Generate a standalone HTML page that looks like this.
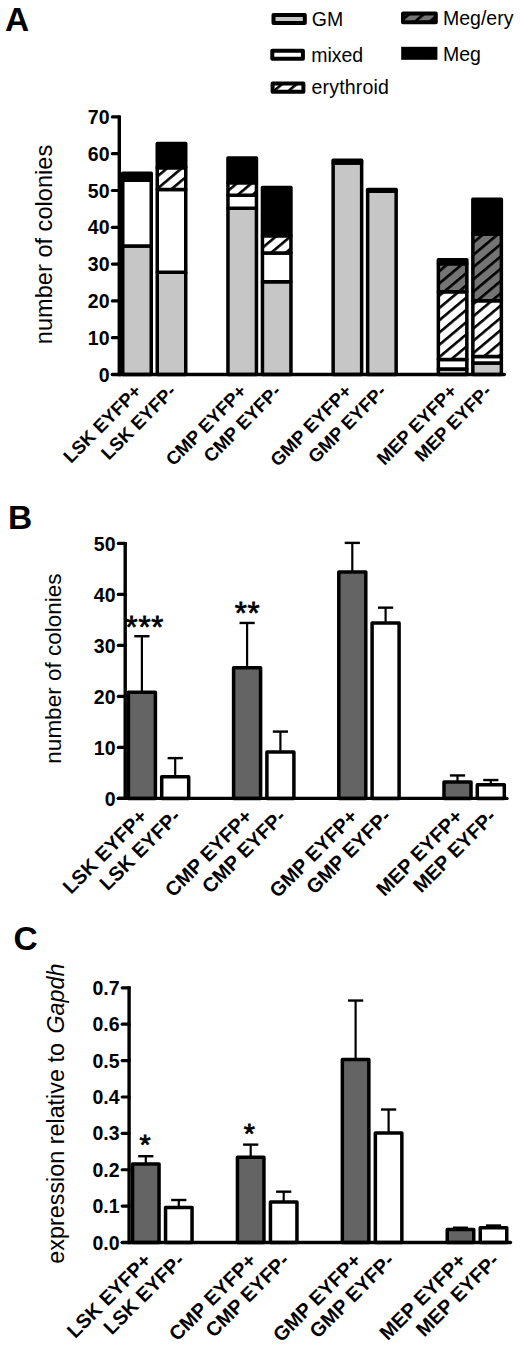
<!DOCTYPE html><html><head><meta charset="utf-8"><style>html,body{margin:0;padding:0;background:#fff;overflow:hidden;width:520px;height:1347px;}svg{display:block;font-family:"Liberation Sans", sans-serif;}</style></head><body>
<svg width="520" height="1347" viewBox="0 0 520 1347">
<defs><pattern id="hw" patternUnits="userSpaceOnUse" width="9.4" height="20" patternTransform="rotate(50)"><rect width="9.4" height="20" fill="#fff"/><rect x="0" y="0" width="2.6" height="20" fill="#000"/></pattern><pattern id="hg" patternUnits="userSpaceOnUse" width="9.4" height="20" patternTransform="rotate(50)"><rect width="9.4" height="20" fill="#747474"/><rect x="0" y="0" width="2.6" height="20" fill="#000"/></pattern></defs>
<rect width="520" height="1347" fill="#fff"/>
<text x="5" y="30.5" font-size="33.5" font-weight="bold" text-anchor="start" >A</text>
<text x="8" y="529.2" font-size="33.5" font-weight="bold" text-anchor="start" >B</text>
<text x="13.5" y="950.4" font-size="33.5" font-weight="bold" text-anchor="start" >C</text>
<rect x="273.5" y="15" width="31.3" height="8" fill="#c6c6c6" stroke="#000" stroke-width="4" stroke-linejoin="round"/>
<text x="311.8" y="25.7" font-size="19.5" font-weight="normal" text-anchor="start" >GM</text>
<rect x="272.3" y="50.7" width="30.6" height="8.1" fill="#fff" stroke="#000" stroke-width="4" stroke-linejoin="round"/>
<text x="311.2" y="62.2" font-size="19.5" font-weight="normal" text-anchor="start" >mixed</text>
<rect x="272.6" y="83.5" width="30.8" height="8.3" fill="url(#hw)" stroke="#000" stroke-width="4" stroke-linejoin="round"/>
<text x="311.5" y="94.2" font-size="19.5" font-weight="normal" text-anchor="start" letter-spacing="0.2">erythroid</text>
<rect x="403" y="13.5" width="32.8" height="8.7" fill="url(#hg)" stroke="#000" stroke-width="4" stroke-linejoin="round"/>
<text x="443" y="24.7" font-size="19.5" font-weight="normal" text-anchor="start" >Meg/ery</text>
<rect x="401.2" y="46.8" width="36.2" height="13" fill="#000"/>
<text x="443" y="60.7" font-size="19.5" font-weight="normal" text-anchor="start" >Meg</text>
<line x1="119.3" y1="115.4" x2="119.3" y2="376.2" stroke="#000" stroke-width="3.4"/>
<line x1="112.4" y1="374.5" x2="119.3" y2="374.5" stroke="#000" stroke-width="3.2" stroke-linecap="round"/>
<text x="109.5" y="381.6" font-size="19.5" font-weight="bold" text-anchor="end" >0</text>
<line x1="112.4" y1="337.7" x2="119.3" y2="337.7" stroke="#000" stroke-width="3.2" stroke-linecap="round"/>
<text x="109.5" y="344.8" font-size="19.5" font-weight="bold" text-anchor="end" >10</text>
<line x1="112.4" y1="300.9" x2="119.3" y2="300.9" stroke="#000" stroke-width="3.2" stroke-linecap="round"/>
<text x="109.5" y="308" font-size="19.5" font-weight="bold" text-anchor="end" >20</text>
<line x1="112.4" y1="264.1" x2="119.3" y2="264.1" stroke="#000" stroke-width="3.2" stroke-linecap="round"/>
<text x="109.5" y="271.2" font-size="19.5" font-weight="bold" text-anchor="end" >30</text>
<line x1="112.4" y1="227.3" x2="119.3" y2="227.3" stroke="#000" stroke-width="3.2" stroke-linecap="round"/>
<text x="109.5" y="234.4" font-size="19.5" font-weight="bold" text-anchor="end" >40</text>
<line x1="112.4" y1="190.5" x2="119.3" y2="190.5" stroke="#000" stroke-width="3.2" stroke-linecap="round"/>
<text x="109.5" y="197.6" font-size="19.5" font-weight="bold" text-anchor="end" >50</text>
<line x1="112.4" y1="153.7" x2="119.3" y2="153.7" stroke="#000" stroke-width="3.2" stroke-linecap="round"/>
<text x="109.5" y="160.8" font-size="19.5" font-weight="bold" text-anchor="end" >60</text>
<line x1="112.4" y1="116.9" x2="119.3" y2="116.9" stroke="#000" stroke-width="3.2" stroke-linecap="round"/>
<text x="109.5" y="124" font-size="19.5" font-weight="bold" text-anchor="end" >70</text>
<text font-size="23.6" transform="translate(51.5 244.5) rotate(-90)" text-anchor="middle">number of colonies</text>
<rect x="122.75" y="246.1" width="28.5" height="128.4" fill="#c6c6c6" stroke="#000" stroke-width="3.5" stroke-linejoin="round"/>
<rect x="122.75" y="180.21" width="28.5" height="65.89" fill="#fff" stroke="#000" stroke-width="3.5" stroke-linejoin="round"/>
<rect x="122.75" y="173.22" width="28.5" height="6.99" fill="#000" stroke="#000" stroke-width="3.5" stroke-linejoin="round"/>
<rect x="157.25" y="272.24" width="28.5" height="102.26" fill="#c6c6c6" stroke="#000" stroke-width="3.5" stroke-linejoin="round"/>
<rect x="157.25" y="189.41" width="28.5" height="82.82" fill="#fff" stroke="#000" stroke-width="3.5" stroke-linejoin="round"/>
<rect x="157.25" y="167.84" width="28.5" height="21.57" fill="url(#hw)" stroke="#000" stroke-width="3.5" stroke-linejoin="round"/>
<rect x="157.25" y="143.4" width="28.5" height="24.44" fill="#000" stroke="#000" stroke-width="3.5" stroke-linejoin="round"/>
<rect x="227.95" y="208.19" width="28.5" height="166.31" fill="#c6c6c6" stroke="#000" stroke-width="3.5" stroke-linejoin="round"/>
<rect x="227.95" y="195.3" width="28.5" height="12.88" fill="#fff" stroke="#000" stroke-width="3.5" stroke-linejoin="round"/>
<rect x="227.95" y="182.79" width="28.5" height="12.52" fill="url(#hw)" stroke="#000" stroke-width="3.5" stroke-linejoin="round"/>
<rect x="227.95" y="157.94" width="28.5" height="24.85" fill="#000" stroke="#000" stroke-width="3.5" stroke-linejoin="round"/>
<rect x="262.45" y="281.81" width="28.5" height="92.69" fill="#c6c6c6" stroke="#000" stroke-width="3.5" stroke-linejoin="round"/>
<rect x="262.45" y="253.1" width="28.5" height="28.71" fill="#fff" stroke="#000" stroke-width="3.5" stroke-linejoin="round"/>
<rect x="262.45" y="235.79" width="28.5" height="17.3" fill="url(#hw)" stroke="#000" stroke-width="3.5" stroke-linejoin="round"/>
<rect x="262.45" y="187.57" width="28.5" height="48.22" fill="#000" stroke="#000" stroke-width="3.5" stroke-linejoin="round"/>
<rect x="333.15" y="162.91" width="28.5" height="211.59" fill="#c6c6c6" stroke="#000" stroke-width="3.5" stroke-linejoin="round"/>
<rect x="333.15" y="160.33" width="28.5" height="2.58" fill="#000" stroke="#000" stroke-width="3.5" stroke-linejoin="round"/>
<rect x="367.65" y="191.25" width="28.5" height="183.25" fill="#c6c6c6" stroke="#000" stroke-width="3.5" stroke-linejoin="round"/>
<rect x="367.65" y="189.41" width="28.5" height="1.84" fill="#000" stroke="#000" stroke-width="3.5" stroke-linejoin="round"/>
<rect x="438.35" y="368.9" width="28.5" height="5.6" fill="#c6c6c6" stroke="#000" stroke-width="3.5" stroke-linejoin="round"/>
<rect x="438.35" y="359.59" width="28.5" height="9.31" fill="#fff" stroke="#000" stroke-width="3.5" stroke-linejoin="round"/>
<rect x="438.35" y="291.75" width="28.5" height="67.84" fill="url(#hw)" stroke="#000" stroke-width="3.5" stroke-linejoin="round"/>
<rect x="438.35" y="263.77" width="28.5" height="27.98" fill="url(#hg)" stroke="#000" stroke-width="3.5" stroke-linejoin="round"/>
<rect x="438.35" y="259.72" width="28.5" height="4.05" fill="#000" stroke="#000" stroke-width="3.5" stroke-linejoin="round"/>
<rect x="472.85" y="363.01" width="28.5" height="11.49" fill="#c6c6c6" stroke="#000" stroke-width="3.5" stroke-linejoin="round"/>
<rect x="472.85" y="356.53" width="28.5" height="6.48" fill="#fff" stroke="#000" stroke-width="3.5" stroke-linejoin="round"/>
<rect x="472.85" y="300.76" width="28.5" height="55.77" fill="url(#hw)" stroke="#000" stroke-width="3.5" stroke-linejoin="round"/>
<rect x="472.85" y="233.95" width="28.5" height="66.81" fill="url(#hg)" stroke="#000" stroke-width="3.5" stroke-linejoin="round"/>
<rect x="472.85" y="199.35" width="28.5" height="34.6" fill="#000" stroke="#000" stroke-width="3.5" stroke-linejoin="round"/>
<line x1="112.5" y1="374.5" x2="504.3" y2="374.5" stroke="#000" stroke-width="3.4" stroke-linecap="round"/>
<text x="0" y="0" font-size="18.5" font-weight="bold" text-anchor="end" transform="translate(142.5 392.4) rotate(-45)">LSK EYFP+</text>
<text x="0" y="0" font-size="18.5" font-weight="bold" text-anchor="end" transform="translate(177 392.4) rotate(-45)">LSK EYFP-</text>
<text x="0" y="0" font-size="18.5" font-weight="bold" text-anchor="end" transform="translate(247.7 392.4) rotate(-45)">CMP EYFP+</text>
<text x="0" y="0" font-size="18.5" font-weight="bold" text-anchor="end" transform="translate(282.2 392.4) rotate(-45)">CMP EYFP-</text>
<text x="0" y="0" font-size="18.5" font-weight="bold" text-anchor="end" transform="translate(352.9 392.4) rotate(-45)">GMP EYFP+</text>
<text x="0" y="0" font-size="18.5" font-weight="bold" text-anchor="end" transform="translate(387.4 392.4) rotate(-45)">GMP EYFP-</text>
<text x="0" y="0" font-size="18.5" font-weight="bold" text-anchor="end" transform="translate(458.1 392.4) rotate(-45)">MEP EYFP+</text>
<text x="0" y="0" font-size="18.5" font-weight="bold" text-anchor="end" transform="translate(492.6 392.4) rotate(-45)">MEP EYFP-</text>
<line x1="125.2" y1="541.9" x2="125.2" y2="800.1" stroke="#000" stroke-width="3.4"/>
<line x1="118.3" y1="798.4" x2="125.2" y2="798.4" stroke="#000" stroke-width="3.2" stroke-linecap="round"/>
<text x="115.5" y="805.5" font-size="19.5" font-weight="bold" text-anchor="end" >0</text>
<line x1="118.3" y1="747.4" x2="125.2" y2="747.4" stroke="#000" stroke-width="3.2" stroke-linecap="round"/>
<text x="115.5" y="754.5" font-size="19.5" font-weight="bold" text-anchor="end" >10</text>
<line x1="118.3" y1="696.4" x2="125.2" y2="696.4" stroke="#000" stroke-width="3.2" stroke-linecap="round"/>
<text x="115.5" y="703.5" font-size="19.5" font-weight="bold" text-anchor="end" >20</text>
<line x1="118.3" y1="645.4" x2="125.2" y2="645.4" stroke="#000" stroke-width="3.2" stroke-linecap="round"/>
<text x="115.5" y="652.5" font-size="19.5" font-weight="bold" text-anchor="end" >30</text>
<line x1="118.3" y1="594.4" x2="125.2" y2="594.4" stroke="#000" stroke-width="3.2" stroke-linecap="round"/>
<text x="115.5" y="601.5" font-size="19.5" font-weight="bold" text-anchor="end" >40</text>
<line x1="118.3" y1="543.4" x2="125.2" y2="543.4" stroke="#000" stroke-width="3.2" stroke-linecap="round"/>
<text x="115.5" y="550.5" font-size="19.5" font-weight="bold" text-anchor="end" >50</text>
<text font-size="22.5" transform="translate(60.5 668.6) rotate(-90)" text-anchor="middle">number of colonies</text>
<line x1="141.9" y1="636.22" x2="141.9" y2="691.3" stroke="#000" stroke-width="2.2"/>
<line x1="134.3" y1="636.22" x2="149.5" y2="636.22" stroke="#000" stroke-width="2.4"/>
<rect x="128.4" y="692.25" width="27" height="106.15" fill="#646464" stroke="#000" stroke-width="3.5" stroke-linejoin="round"/>
<line x1="175.2" y1="758.11" x2="175.2" y2="775.7" stroke="#000" stroke-width="2.2"/>
<line x1="167.6" y1="758.11" x2="182.8" y2="758.11" stroke="#000" stroke-width="2.4"/>
<rect x="161.7" y="776.65" width="27" height="21.75" fill="#fff" stroke="#000" stroke-width="3.5" stroke-linejoin="round"/>
<line x1="247.1" y1="622.96" x2="247.1" y2="666.82" stroke="#000" stroke-width="2.2"/>
<line x1="239.5" y1="622.96" x2="254.7" y2="622.96" stroke="#000" stroke-width="2.4"/>
<rect x="233.6" y="667.77" width="27" height="130.63" fill="#646464" stroke="#000" stroke-width="3.5" stroke-linejoin="round"/>
<line x1="280.4" y1="731.59" x2="280.4" y2="750.97" stroke="#000" stroke-width="2.2"/>
<line x1="272.8" y1="731.59" x2="288" y2="731.59" stroke="#000" stroke-width="2.4"/>
<rect x="266.9" y="751.92" width="27" height="46.48" fill="#fff" stroke="#000" stroke-width="3.5" stroke-linejoin="round"/>
<line x1="352.3" y1="542.89" x2="352.3" y2="570.94" stroke="#000" stroke-width="2.2"/>
<line x1="344.7" y1="542.89" x2="359.9" y2="542.89" stroke="#000" stroke-width="2.4"/>
<rect x="338.8" y="571.89" width="27" height="226.51" fill="#646464" stroke="#000" stroke-width="3.5" stroke-linejoin="round"/>
<line x1="385.6" y1="607.66" x2="385.6" y2="621.94" stroke="#000" stroke-width="2.2"/>
<line x1="378" y1="607.66" x2="393.2" y2="607.66" stroke="#000" stroke-width="2.4"/>
<rect x="372.1" y="622.89" width="27" height="175.51" fill="#fff" stroke="#000" stroke-width="3.5" stroke-linejoin="round"/>
<line x1="457.5" y1="775.45" x2="457.5" y2="781.06" stroke="#000" stroke-width="2.2"/>
<line x1="449.9" y1="775.45" x2="465.1" y2="775.45" stroke="#000" stroke-width="2.4"/>
<rect x="444" y="782.01" width="27" height="16.39" fill="#646464" stroke="#000" stroke-width="3.5" stroke-linejoin="round"/>
<line x1="490.8" y1="780.04" x2="490.8" y2="783.81" stroke="#000" stroke-width="2.2"/>
<line x1="483.2" y1="780.04" x2="498.4" y2="780.04" stroke="#000" stroke-width="2.4"/>
<rect x="477.3" y="784.76" width="27" height="13.64" fill="#fff" stroke="#000" stroke-width="3.5" stroke-linejoin="round"/>
<line x1="118.4" y1="798.4" x2="507" y2="798.4" stroke="#000" stroke-width="3.4" stroke-linecap="round"/>
<text x="144.9" y="637.5" font-size="31" font-weight="normal" text-anchor="middle" stroke="#000" stroke-width="0.8" letter-spacing="0.8">***</text>
<text x="247.6" y="623.7" font-size="31" font-weight="normal" text-anchor="middle" stroke="#000" stroke-width="0.8" letter-spacing="0.8">**</text>
<text x="0" y="0" font-size="20" font-weight="bold" text-anchor="end" transform="translate(148.4 817.7) rotate(-45)">LSK EYFP+</text>
<text x="0" y="0" font-size="20" font-weight="bold" text-anchor="end" transform="translate(181.7 817.7) rotate(-45)">LSK EYFP-</text>
<text x="0" y="0" font-size="20" font-weight="bold" text-anchor="end" transform="translate(253.6 817.7) rotate(-45)">CMP EYFP+</text>
<text x="0" y="0" font-size="20" font-weight="bold" text-anchor="end" transform="translate(286.9 817.7) rotate(-45)">CMP EYFP-</text>
<text x="0" y="0" font-size="20" font-weight="bold" text-anchor="end" transform="translate(358.8 817.7) rotate(-45)">GMP EYFP+</text>
<text x="0" y="0" font-size="20" font-weight="bold" text-anchor="end" transform="translate(392.1 817.7) rotate(-45)">GMP EYFP-</text>
<text x="0" y="0" font-size="20" font-weight="bold" text-anchor="end" transform="translate(464 817.7) rotate(-45)">MEP EYFP+</text>
<text x="0" y="0" font-size="20" font-weight="bold" text-anchor="end" transform="translate(497.3 817.7) rotate(-45)">MEP EYFP-</text>
<line x1="129.1" y1="986.34" x2="129.1" y2="1244.2" stroke="#000" stroke-width="3.4"/>
<line x1="122.2" y1="1242.5" x2="129.1" y2="1242.5" stroke="#000" stroke-width="3.2" stroke-linecap="round"/>
<text x="119.5" y="1249.6" font-size="19.5" font-weight="bold" text-anchor="end" >0.0</text>
<line x1="122.2" y1="1206.12" x2="129.1" y2="1206.12" stroke="#000" stroke-width="3.2" stroke-linecap="round"/>
<text x="119.5" y="1213.22" font-size="19.5" font-weight="bold" text-anchor="end" >0.1</text>
<line x1="122.2" y1="1169.74" x2="129.1" y2="1169.74" stroke="#000" stroke-width="3.2" stroke-linecap="round"/>
<text x="119.5" y="1176.84" font-size="19.5" font-weight="bold" text-anchor="end" >0.2</text>
<line x1="122.2" y1="1133.36" x2="129.1" y2="1133.36" stroke="#000" stroke-width="3.2" stroke-linecap="round"/>
<text x="119.5" y="1140.46" font-size="19.5" font-weight="bold" text-anchor="end" >0.3</text>
<line x1="122.2" y1="1096.98" x2="129.1" y2="1096.98" stroke="#000" stroke-width="3.2" stroke-linecap="round"/>
<text x="119.5" y="1104.08" font-size="19.5" font-weight="bold" text-anchor="end" >0.4</text>
<line x1="122.2" y1="1060.6" x2="129.1" y2="1060.6" stroke="#000" stroke-width="3.2" stroke-linecap="round"/>
<text x="119.5" y="1067.7" font-size="19.5" font-weight="bold" text-anchor="end" >0.5</text>
<line x1="122.2" y1="1024.22" x2="129.1" y2="1024.22" stroke="#000" stroke-width="3.2" stroke-linecap="round"/>
<text x="119.5" y="1031.32" font-size="19.5" font-weight="bold" text-anchor="end" >0.6</text>
<line x1="122.2" y1="987.84" x2="129.1" y2="987.84" stroke="#000" stroke-width="3.2" stroke-linecap="round"/>
<text x="119.5" y="994.94" font-size="19.5" font-weight="bold" text-anchor="end" >0.7</text>
<text font-size="23.35" transform="translate(63.5 1113.6) rotate(-90)" text-anchor="middle">expression relative to <tspan dx="3" font-style="italic">Gapdh</tspan></text>
<line x1="145.8" y1="1156.21" x2="145.8" y2="1163.08" stroke="#000" stroke-width="2.2"/>
<line x1="138.2" y1="1156.21" x2="153.4" y2="1156.21" stroke="#000" stroke-width="2.4"/>
<rect x="132.55" y="1164.03" width="26.5" height="78.47" fill="#646464" stroke="#000" stroke-width="3.5" stroke-linejoin="round"/>
<line x1="178.8" y1="1200.01" x2="178.8" y2="1206.52" stroke="#000" stroke-width="2.2"/>
<line x1="171.2" y1="1200.01" x2="186.4" y2="1200.01" stroke="#000" stroke-width="2.4"/>
<rect x="165.55" y="1207.47" width="26.5" height="35.03" fill="#fff" stroke="#000" stroke-width="3.5" stroke-linejoin="round"/>
<line x1="250.7" y1="1144.62" x2="250.7" y2="1156.21" stroke="#000" stroke-width="2.2"/>
<line x1="243.1" y1="1144.62" x2="258.3" y2="1144.62" stroke="#000" stroke-width="2.4"/>
<rect x="237.45" y="1157.16" width="26.5" height="85.34" fill="#646464" stroke="#000" stroke-width="3.5" stroke-linejoin="round"/>
<line x1="283.7" y1="1191.68" x2="283.7" y2="1201.09" stroke="#000" stroke-width="2.2"/>
<line x1="276.1" y1="1191.68" x2="291.3" y2="1191.68" stroke="#000" stroke-width="2.4"/>
<rect x="270.45" y="1202.04" width="26.5" height="40.46" fill="#fff" stroke="#000" stroke-width="3.5" stroke-linejoin="round"/>
<line x1="355.6" y1="1000.55" x2="355.6" y2="1058.47" stroke="#000" stroke-width="2.2"/>
<line x1="348" y1="1000.55" x2="363.2" y2="1000.55" stroke="#000" stroke-width="2.4"/>
<rect x="342.35" y="1059.42" width="26.5" height="183.08" fill="#646464" stroke="#000" stroke-width="3.5" stroke-linejoin="round"/>
<line x1="388.6" y1="1109.51" x2="388.6" y2="1131.95" stroke="#000" stroke-width="2.2"/>
<line x1="381" y1="1109.51" x2="396.2" y2="1109.51" stroke="#000" stroke-width="2.4"/>
<rect x="375.35" y="1132.9" width="26.5" height="109.6" fill="#fff" stroke="#000" stroke-width="3.5" stroke-linejoin="round"/>
<line x1="460.5" y1="1227.7" x2="460.5" y2="1228.61" stroke="#000" stroke-width="2.2"/>
<line x1="452.9" y1="1227.7" x2="468.1" y2="1227.7" stroke="#000" stroke-width="2.4"/>
<rect x="447.25" y="1229.56" width="26.5" height="12.94" fill="#646464" stroke="#000" stroke-width="3.5" stroke-linejoin="round"/>
<line x1="493.5" y1="1225.53" x2="493.5" y2="1226.8" stroke="#000" stroke-width="2.2"/>
<line x1="485.9" y1="1225.53" x2="501.1" y2="1225.53" stroke="#000" stroke-width="2.4"/>
<rect x="480.25" y="1227.75" width="26.5" height="14.75" fill="#fff" stroke="#000" stroke-width="3.5" stroke-linejoin="round"/>
<line x1="122.3" y1="1242.5" x2="510.5" y2="1242.5" stroke="#000" stroke-width="3.4" stroke-linecap="round"/>
<text x="145.1" y="1154.2" font-size="28.5" font-weight="normal" text-anchor="middle" stroke="#000" stroke-width="0.8">*</text>
<text x="249.3" y="1143.2" font-size="28.5" font-weight="normal" text-anchor="middle" stroke="#000" stroke-width="0.8">*</text>
<text x="0" y="0" font-size="20" font-weight="bold" text-anchor="end" transform="translate(152.6 1261.8) rotate(-45)">LSK EYFP+</text>
<text x="0" y="0" font-size="20" font-weight="bold" text-anchor="end" transform="translate(185.6 1261.8) rotate(-45)">LSK EYFP-</text>
<text x="0" y="0" font-size="20" font-weight="bold" text-anchor="end" transform="translate(257.5 1261.8) rotate(-45)">CMP EYFP+</text>
<text x="0" y="0" font-size="20" font-weight="bold" text-anchor="end" transform="translate(290.5 1261.8) rotate(-45)">CMP EYFP-</text>
<text x="0" y="0" font-size="20" font-weight="bold" text-anchor="end" transform="translate(362.4 1261.8) rotate(-45)">GMP EYFP+</text>
<text x="0" y="0" font-size="20" font-weight="bold" text-anchor="end" transform="translate(395.4 1261.8) rotate(-45)">GMP EYFP-</text>
<text x="0" y="0" font-size="20" font-weight="bold" text-anchor="end" transform="translate(467.3 1261.8) rotate(-45)">MEP EYFP+</text>
<text x="0" y="0" font-size="20" font-weight="bold" text-anchor="end" transform="translate(500.3 1261.8) rotate(-45)">MEP EYFP-</text>
</svg></body></html>
